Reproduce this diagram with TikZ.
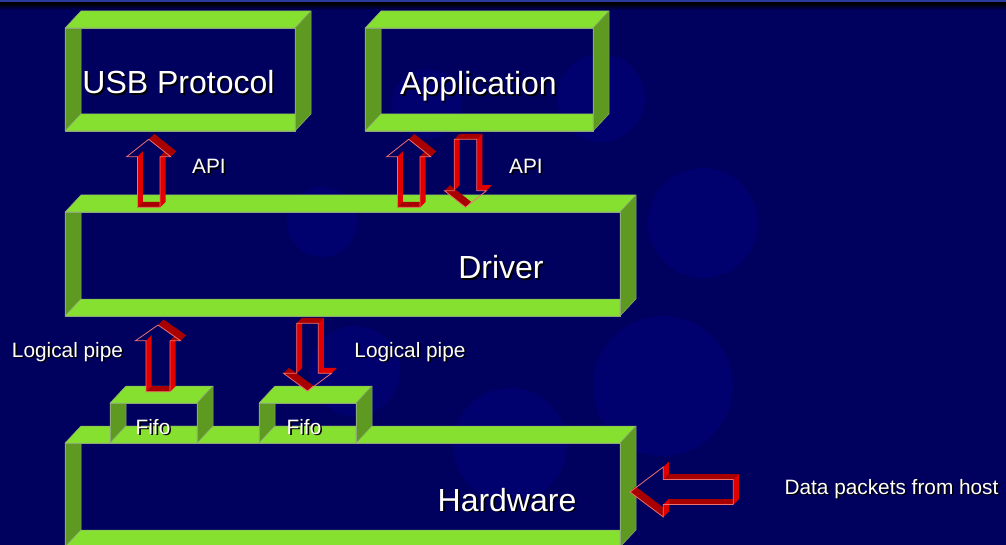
\documentclass[tikz,border=0pt]{standalone}
\usepackage{fontspec}
\setmainfont{Liberation Sans}
\definecolor{bgnavy}{HTML}{00005E}
\definecolor{spot}{HTML}{00006E}
\definecolor{band}{HTML}{2B3A9C}
\definecolor{lgreen}{HTML}{86E030}
\definecolor{dgreen}{HTML}{5E9A22}
\definecolor{edgegreen}{HTML}{8FA878}
\definecolor{bred}{HTML}{E00000}
\definecolor{dred}{HTML}{A80000}
\definecolor{pinkline}{HTML}{F07070}
\tikzset{
  lightface/.style={fill=lgreen, draw=edgegreen, line width=0.5pt, line join=round},
  darkface/.style={fill=dgreen, draw=edgegreen, line width=0.5pt, line join=round},
  redface/.style={fill=bred},
  darkredface/.style={fill=dred},
  arrowrim/.style={draw=pinkline, line width=0.8pt, line join=miter},
  biglabel/.style={inner sep=0pt, anchor=base, font=\fontsize{32}{36}\selectfont},
  smalllabel/.style={inner sep=0pt, anchor=base, font=\fontsize{20.8}{24}\selectfont},
}
% open 3D frame: front opening (x1,y1)-(x2,y2), depth 16 right / 17 up
\newcommand{\frameblock}[5]{%
  \coordinate (#5) at ({(#1+#3)/2},{(#2+#4)/2});
  \fill[darkface] (#1,#2) -- (#1+16,#2) -- (#1+16,#4-17) -- (#1,#4) -- cycle;
  \fill[lightface] (#1,#4) -- (#1+16,#4-17) -- (#3,#4-17) -- (#3,#4) -- cycle;
  \fill[lightface] (#1,#2) -- (#1+16,#2-17) -- (#3+16,#2-17) -- (#3,#2) -- cycle;
  \fill[darkface] (#3,#2) -- (#3+16,#2-17) -- (#3+16,#4-17) -- (#3,#4) -- cycle;
  \draw[draw=edgegreen, line width=0.5pt] (#1,#2) rectangle (#3,#4);
}
% hollow 3D block arrows, extruded by (5.5,-5.5)
\def\ex{5.5}
% up: centre x, tip y, head base y, bottom y, head half width, shaft half width
\newcommand{\uparrowblock}[6]{%
  \begin{scope}[shift={(#1,0)}]
  \fill[redface] (-#6,#3) -- (-#6,#4) -- (-#6+\ex,#4-\ex) -- (-#6+\ex,#3-\ex) -- cycle;
  \fill[darkredface] (-#6,#4) -- (#6,#4) -- (#6+\ex,#4-\ex) -- (-#6+\ex,#4-\ex) -- cycle;
  \fill[redface] (#6,#3) -- (#6,#4) -- (#6+\ex,#4-\ex) -- (#6+\ex,#3-\ex) -- cycle;
  \fill[darkredface] (#6,#3) -- (#5,#3) -- (#5+\ex,#3-\ex) -- (#6+\ex,#3-\ex) -- cycle;
  \fill[darkredface] (0,#2) -- (#5,#3) -- (#5+\ex,#3-\ex) -- (\ex,#2-\ex) -- cycle;
  \draw[arrowrim] (0,#2) -- (-#5,#3) -- (-#6,#3) -- (-#6,#4) -- (#6,#4) -- (#6,#3) -- (#5,#3) -- cycle;
  \end{scope}
}
% down: centre x, top y, head base y, tip y, head half width, shaft half width
\newcommand{\downarrowblock}[6]{%
  \begin{scope}[shift={(#1,0)}]
  \fill[redface] (-#6,#2) -- (-#6,#3) -- (-#6+\ex,#3-\ex) -- (-#6+\ex,#2-\ex) -- cycle;
  \fill[darkredface] (-#5,#3) -- (0,#4) -- (\ex,#4-\ex) -- (-#5+\ex,#3-\ex) -- cycle;
  \fill[darkredface] (-#6,#2) -- (#6,#2) -- (#6+\ex,#2-\ex) -- (-#6+\ex,#2-\ex) -- cycle;
  \fill[redface] (#6,#2) -- (#6,#3) -- (#6+\ex,#3-\ex) -- (#6+\ex,#2-\ex) -- cycle;
  \fill[redface] (#6,#3) -- (#5,#3) -- (#5+\ex,#3-\ex) -- (#6+\ex,#3-\ex) -- cycle;
  \draw[arrowrim] (-#6,#2) -- (#6,#2) -- (#6,#3) -- (#5,#3) -- (0,#4) -- (-#5,#3) -- (-#6,#3) -- cycle;
  \end{scope}
}
% left: tip x, centre y, head base x, right end x, head half height, shaft half height
\newcommand{\leftarrowblock}[6]{%
  \begin{scope}[shift={(0,#2)}]
  \fill[darkredface] (#3,#6) -- (#4,#6) -- (#4+\ex,#6-\ex) -- (#3+\ex,#6-\ex) -- cycle;
  \fill[darkredface] (#1,0) -- (#3,#5) -- (#3+\ex,#5-\ex) -- (#1+\ex,-\ex) -- cycle;
  \fill[redface] (#3,#5) -- (#3,#6) -- (#3+\ex,#6-\ex) -- (#3+\ex,#5-\ex) -- cycle;
  \fill[darkredface] (#3,-#6) -- (#4,-#6) -- (#4+\ex,-#6-\ex) -- (#3+\ex,-#6-\ex) -- cycle;
  \fill[redface] (#4,-#6) -- (#4,#6) -- (#4+\ex,#6-\ex) -- (#4+\ex,-#6-\ex) -- cycle;
  \fill[redface] (#3,-#5) -- (#3,-#6) -- (#3+\ex,-#6-\ex) -- (#3+\ex,-#5-\ex) -- cycle;
  \draw[arrowrim] (#1,0) -- (#3,-#5) -- (#3,-#6) -- (#4,-#6) -- (#4,#6) -- (#3,#6) -- (#3,#5) -- cycle;
  \end{scope}
}
% white label with a dark drop shadow: name, style, x, y, text
\newcommand{\shadowlabel}[5]{%
  \node[#2, text=black] at (#3+1.6,#4+1.6) {#5};
  \node[#2, text=white] (#1) at (#3,#4) {#5};
}
\begin{document}
\begin{tikzpicture}[x=1pt, y=-1pt]
\useasboundingbox (0,0) rectangle (1006,545);
% background
\fill[bgnavy] (0,0) rectangle (1006,545);
\fill[band] (0,0) rectangle (1006,3);
\shade[top color=black, bottom color=bgnavy] (0,3) rectangle (1006,10);
% soft spots
\fill[spot] (601,98) circle (44);
\fill[spot] (427,104) circle (35);
\fill[spot] (322,222) circle (35);
\fill[spot] (703,223) circle (55);
\fill[spot] (663,386) circle (70);
\fill[spot] (355,371) circle (45);
\fill[spot] (510,445) circle (57);
% layers
\frameblock{65}{28}{295}{131}{usb}
\frameblock{365}{28}{593}{131}{app}
\frameblock{65}{212}{620}{316}{drv}
\frameblock{65}{443}{620}{547}{hw}
\frameblock{110}{403}{197}{443}{fifoA}
\frameblock{259}{403}{356}{443}{fifoB}
% arrows between layers
\uparrowblock{148.7}{139.3}{156.7}{207.3}{22}{11.3}
\uparrowblock{408.7}{139.3}{156.7}{207.3}{22}{11.3}
\downarrowblock{465.5}{139.3}{190.7}{207.3}{21}{11.3}
\uparrowblock{158}{325}{340.7}{391.7}{22.5}{12}
\downarrowblock{307.5}{323.3}{373.3}{391}{24}{10.8}
\leftarrowblock{630}{492}{663.3}{733.3}{25}{12.5}
% labels
\shadowlabel{usbT}{biglabel}{178.5}{94}{USB Protocol}
\shadowlabel{appT}{biglabel}{478.5}{95}{Application}
\shadowlabel{drvT}{biglabel}{501}{279}{Driver}
\shadowlabel{hwT}{biglabel}{507}{511}{Hardware}
\shadowlabel{apiA}{smalllabel}{209}{174}{API}
\shadowlabel{apiB}{smalllabel}{526}{174}{API}
\shadowlabel{pipeA}{smalllabel}{67.5}{357}{Logical pipe}
\shadowlabel{pipeB}{smalllabel}{410}{357}{Logical pipe}
\shadowlabel{fifoAT}{smalllabel}{153}{434}{Fifo}
\shadowlabel{fifoBT}{smalllabel}{304}{434}{Fifo}
\shadowlabel{hostT}{smalllabel}{891.5}{494}{Data packets from host}
\end{tikzpicture}
\end{document}
